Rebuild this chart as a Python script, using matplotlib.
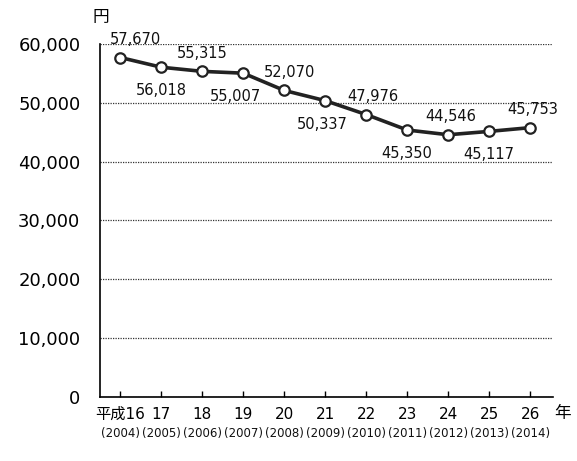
import matplotlib
matplotlib.use("Agg")
import matplotlib.pyplot as plt
import matplotlib.transforms as mtransforms

plt.rcParams['font.family'] = ['DejaVu Sans', 'Noto Sans CJK JP']

# data (円)
heisei = ["平成16", "17", "18", "19", "20", "21", "22", "23", "24", "25", "26"]
years = ["(2004)", "(2005)", "(2006)", "(2007)", "(2008)", "(2009)",
         "(2010)", "(2011)", "(2012)", "(2013)", "(2014)"]
values = [57670, 56018, 55315, 55007, 52070, 50337, 47976, 45350, 44546, 45117, 45753]
# label above (1) or below (-1) the point
label_side = [1, -1, 1, -1, 1, -1, 1, -1, 1, -1, 1]
label_dx = [11, 0, 0, -6, 4, -2, 5, 0, 2, 0, 2]
yticks = [0, 10000, 20000, 30000, 40000, 50000, 60000]

fig = plt.figure(figsize=(5.77, 4.61), dpi=100)
ax = fig.add_axes([0.173, 0.139, 0.785, 0.766])

x = list(range(len(values)))
ax.plot(x, values, color="#222222", lw=2.6, marker="o", ms=7.5,
        mfc="white", mec="#222222", mew=1.6, zorder=3)

for i, v in enumerate(values):
    off = 13 if label_side[i] > 0 else -17
    ax.annotate(f"{v:,}", xy=(i, v), xytext=(label_dx[i], off),
                textcoords="offset points", ha="center", va="center",
                fontsize=10.5, color="#111111")

ax.set_xlim(-0.5, 10.55)
ax.set_ylim(0, 60000)
ax.set_yticks(yticks)
ax.set_yticklabels([f"{t:,}" for t in yticks], fontsize=13)
ax.tick_params(axis="y", length=0, pad=14)

ax.set_xticks(x)
ax.set_xticklabels(heisei, fontsize=11)
ax.tick_params(axis="x", direction="in", length=4, width=1, pad=7)

trans = mtransforms.blended_transform_factory(ax.transData, ax.transAxes)
for i, y in enumerate(years):
    ax.text(i, -0.103, y, transform=trans, ha="center", va="center",
            fontsize=8.5, color="#111111")

ax.yaxis.grid(True, color="#333333", lw=0.9, linestyle=(0, (1, 1)))
ax.set_axisbelow(True)
for s in ["top", "right"]:
    ax.spines[s].set_visible(False)
ax.spines["left"].set_linewidth(1.2)
ax.spines["bottom"].set_linewidth(1.2)

fig.text(101 / 577, 1 - 17 / 461, "円", ha="center", va="center", fontsize=12)
fig.text(563 / 577, 1 - 413 / 461, "年", ha="center", va="center", fontsize=12)

fig.savefig("out.png", dpi=100)
